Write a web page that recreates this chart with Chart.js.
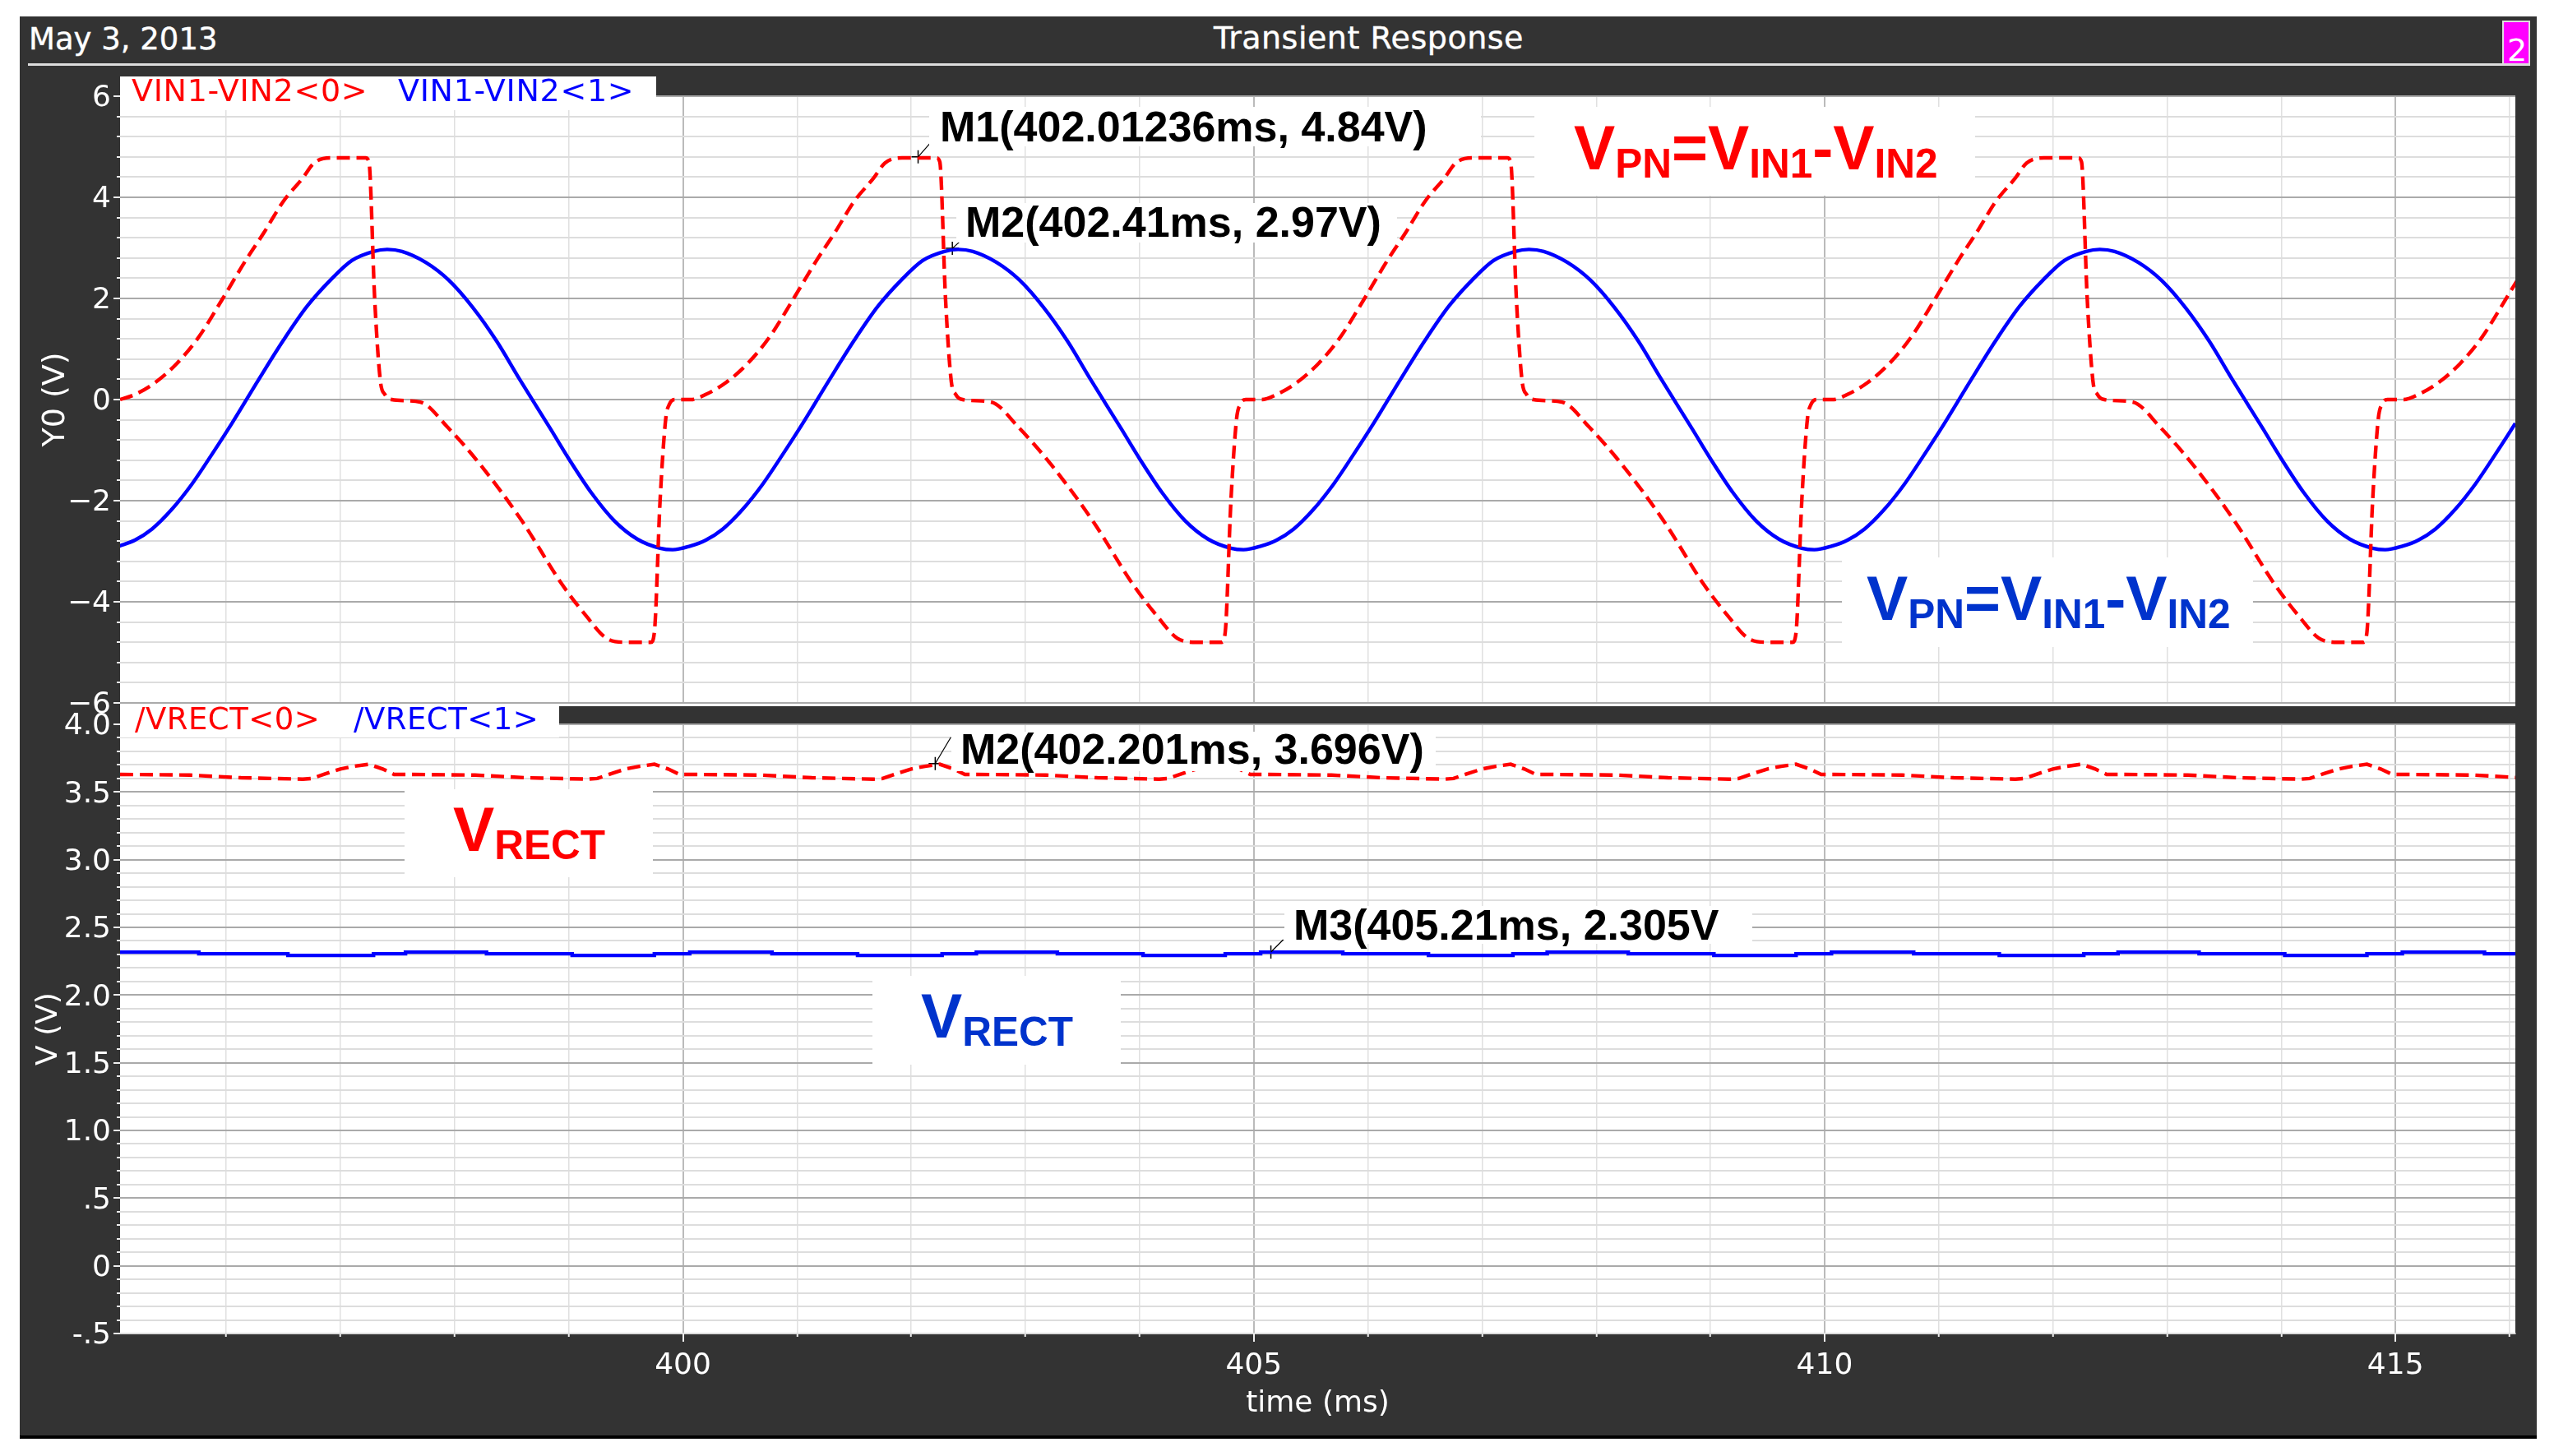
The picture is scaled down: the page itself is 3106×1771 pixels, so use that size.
<!DOCTYPE html>
<html><head><meta charset="utf-8">
<style>
html,body{margin:0;padding:0;background:#fff;width:3106px;height:1771px;overflow:hidden}
#stage{position:relative;width:3106px;height:1771px;overflow:hidden}
canvas{position:absolute;left:0;top:0}
.r{position:absolute}
.t{position:absolute;white-space:nowrap;line-height:1}
</style>
<script src="https://cdn.jsdelivr.net/npm/chart.js@4"></script>
</head><body><div id="stage"></div>
<script>
// ---------- data ----------
const xTickLabels = [400, 405, 410, 415];
const topTickLabels = {"6":"6","4":"4","2":"2","0":"0","-2":"−2","-4":"−4","-6":"−6"};
const lowTickLabels = {"4":"4.0","3.5":"3.5","3":"3.0","2.5":"2.5","2":"2.0","1.5":"1.5","1":"1.0","0.5":".5","0":"0","-0.5":"-.5"};

const vinRedT = [395.07,395.20,395.38,395.57,395.76,395.97,396.17,396.33,396.50,396.67,396.77,396.92,397.22,397.25,397.30,397.35,397.39,397.45,397.70,397.94,398.23,398.59,398.94,399.16,399.33,399.50,399.72,399.75,399.80,399.85,399.88,399.93,
400.07,400.20,400.38,400.57,400.76,400.97,401.17,401.33,401.50,401.67,401.77,401.92,402.22,402.25,402.30,402.35,402.39,402.45,402.70,402.94,403.23,403.59,403.94,404.16,404.33,404.50,404.72,404.75,404.80,404.85,404.88,404.93,
405.07,405.20,405.38,405.57,405.76,405.97,406.17,406.33,406.50,406.67,406.77,406.92,407.22,407.25,407.30,407.35,407.39,407.45,407.70,407.94,408.23,408.59,408.94,409.16,409.33,409.50,409.72,409.75,409.80,409.85,409.88,409.93,
410.07,410.20,410.38,410.57,410.76,410.97,411.17,411.33,411.50,411.67,411.77,411.92,412.22,412.25,412.30,412.35,412.39,412.45,412.70,412.94,413.23,413.59,413.94,414.16,414.33,414.50,414.72,414.75,414.80,414.85,414.88,414.93,
415.07,415.20,415.38,415.57,415.76,415.97,416.17];
const vinRedV = [0,0.10,0.34,0.72,1.24,2.00,2.75,3.30,3.92,4.38,4.68,4.78,4.78,4.70,2.00,0.37,0.10,0,-0.05,-0.55,-1.30,-2.40,-3.65,-4.30,-4.72,-4.80,-4.80,-4.60,-2.00,-0.37,-0.10,0,
0,0.10,0.34,0.72,1.24,2.00,2.75,3.30,3.92,4.38,4.68,4.78,4.78,4.70,2.00,0.37,0.10,0,-0.05,-0.55,-1.30,-2.40,-3.65,-4.30,-4.72,-4.80,-4.80,-4.60,-2.00,-0.37,-0.10,0,
0,0.10,0.34,0.72,1.24,2.00,2.75,3.30,3.92,4.38,4.68,4.78,4.78,4.70,2.00,0.37,0.10,0,-0.05,-0.55,-1.30,-2.40,-3.65,-4.30,-4.72,-4.80,-4.80,-4.60,-2.00,-0.37,-0.10,0,
0,0.10,0.34,0.72,1.24,2.00,2.75,3.30,3.92,4.38,4.68,4.78,4.78,4.70,2.00,0.37,0.10,0,-0.05,-0.55,-1.30,-2.40,-3.65,-4.30,-4.72,-4.80,-4.80,-4.60,-2.00,-0.37,-0.10,0,
0,0.10,0.34,0.72,1.24,2.00,2.75];

const vinBlueT = [395.06,395.20,395.35,395.52,395.70,395.87,396.05,396.28,396.50,396.71,396.92,397.10,397.29,397.41,397.54,397.75,397.95,398.16,398.37,398.57,398.84,399.00,399.20,399.40,399.60,399.80,399.91,
400.06,400.20,400.35,400.52,400.70,400.87,401.05,401.28,401.50,401.71,401.92,402.10,402.29,402.41,402.54,402.75,402.95,403.16,403.37,403.57,403.84,404.00,404.20,404.40,404.60,404.80,404.91,
405.06,405.20,405.35,405.52,405.70,405.87,406.05,406.28,406.50,406.71,406.92,407.10,407.29,407.41,407.54,407.75,407.95,408.16,408.37,408.57,408.84,409.00,409.20,409.40,409.60,409.80,409.91,
410.06,410.20,410.35,410.52,410.70,410.87,411.05,411.28,411.50,411.71,411.92,412.10,412.29,412.41,412.54,412.75,412.95,413.16,413.37,413.57,413.84,414.00,414.20,414.40,414.60,414.80,414.91,
415.06,415.20,415.35,415.52,415.70,415.87,416.05,416.28];
const vinBlueV = [-2.90,-2.78,-2.56,-2.18,-1.67,-1.10,-0.47,0.38,1.17,1.85,2.38,2.75,2.93,2.97,2.93,2.71,2.36,1.82,1.15,0.40,-0.58,-1.17,-1.85,-2.40,-2.76,-2.94,-2.97,
-2.90,-2.78,-2.56,-2.18,-1.67,-1.10,-0.47,0.38,1.17,1.85,2.38,2.75,2.93,2.97,2.93,2.71,2.36,1.82,1.15,0.40,-0.58,-1.17,-1.85,-2.40,-2.76,-2.94,-2.97,
-2.90,-2.78,-2.56,-2.18,-1.67,-1.10,-0.47,0.38,1.17,1.85,2.38,2.75,2.93,2.97,2.93,2.71,2.36,1.82,1.15,0.40,-0.58,-1.17,-1.85,-2.40,-2.76,-2.94,-2.97,
-2.90,-2.78,-2.56,-2.18,-1.67,-1.10,-0.47,0.38,1.17,1.85,2.38,2.75,2.93,2.97,2.93,2.71,2.36,1.82,1.15,0.40,-0.58,-1.17,-1.85,-2.40,-2.76,-2.94,-2.97,
-2.90,-2.78,-2.56,-2.18,-1.67,-1.10,-0.47,0.38];

const rectRedT = [395.07,395.68,396.13,396.67,396.75,396.87,397.00,397.12,397.25,397.37,397.47,
397.57,398.18,398.63,399.17,399.25,399.37,399.50,399.62,399.75,399.87,399.97,
400.07,400.68,401.13,401.67,401.75,401.87,402.00,402.12,402.25,402.37,402.47,
402.57,403.18,403.63,404.17,404.25,404.37,404.50,404.62,404.75,404.87,404.97,
405.07,405.68,406.13,406.67,406.75,406.87,407.00,407.12,407.25,407.37,407.47,
407.57,408.18,408.63,409.17,409.25,409.37,409.50,409.62,409.75,409.87,409.97,
410.07,410.68,411.13,411.67,411.75,411.87,412.00,412.12,412.25,412.37,412.47,
412.57,413.18,413.63,414.17,414.25,414.37,414.50,414.62,414.75,414.87,414.97,
415.07,415.68,416.10];
const rectRedV = [3.63,3.625,3.605,3.595,3.60,3.635,3.67,3.69,3.705,3.67,3.63,
3.63,3.625,3.605,3.595,3.60,3.635,3.67,3.69,3.705,3.67,3.63,
3.63,3.625,3.605,3.595,3.60,3.635,3.67,3.69,3.705,3.67,3.63,
3.63,3.625,3.605,3.595,3.60,3.635,3.67,3.69,3.705,3.67,3.63,
3.63,3.625,3.605,3.595,3.60,3.635,3.67,3.69,3.705,3.67,3.63,
3.63,3.625,3.605,3.595,3.60,3.635,3.67,3.69,3.705,3.67,3.63,
3.63,3.625,3.605,3.595,3.60,3.635,3.67,3.69,3.705,3.67,3.63,
3.63,3.625,3.605,3.595,3.60,3.635,3.67,3.69,3.705,3.67,3.63,
3.63,3.625,3.605];

const rectBlueT = [395.07,395.76,396.54,397.29,397.57,398.28,399.03,399.75,400.06,400.78,401.53,402.27,402.57,403.28,404.03,404.75,405.06,405.78,406.53,407.27,407.57,408.28,409.03,409.75,410.06,410.78,411.53,412.27,412.57,413.28,414.03,414.75,415.06,415.78,416.10];
const rectBlueV = [2.317,2.305,2.293,2.305,2.317,2.305,2.293,2.305,2.317,2.305,2.293,2.305,2.317,2.305,2.293,2.305,2.317,2.305,2.293,2.305,2.317,2.305,2.293,2.305,2.317,2.305,2.293,2.305,2.317,2.305,2.293,2.305,2.317,2.305,2.305];

const topMarkerT = [402.06, 402.36];
const topMarkerV = [4.80, 2.99];
const lowMarkerT = [402.21, 405.15];
const lowMarkerV = [3.71, 2.318];

// ---------- helpers ----------
const stage = document.getElementById('stage');
const FONT = '"DejaVu Sans"';
const ARIAL = '"Liberation Sans"';
function rect(x0,y0,x1,y1,color,extra){
  const d=document.createElement('div');d.className='r';
  d.style.cssText=`left:${x0}px;top:${y0}px;width:${x1-x0}px;height:${y1-y0}px;background:${color};${extra||''}`;
  stage.appendChild(d);return d;
}
function text(html,left,base,size,color,family,weight,extra){
  const d=document.createElement('div');d.className='t';
  d.style.cssText=`left:${left}px;top:${base-0.846*size}px;font-size:${size}px;color:${color};font-family:${family};font-weight:${weight||'normal'};${extra||''}`;
  d.innerHTML=html;stage.appendChild(d);return d;
}
function addCanvas(){
  const c=document.createElement('canvas');c.width=3106;c.height=1771;
  c.style.width='3106px';c.style.height='1771px';stage.appendChild(c);return c;
}
const pts=(xs,ys)=>xs.map((x,i)=>({x,y:ys[i]}));

// ticks with longer majors and slanted marker leaders
const decor={
  id:'decor',
  afterDraw(chart,args,opts){
    const ctx=chart.ctx;ctx.save();
    ctx.strokeStyle='#eeeeee';ctx.lineWidth=2;
    const y=chart.scales.y, x=chart.scales.x;
    y.ticks.forEach((t,i)=>{ if(t.label!==''){const p=Math.round(y.getPixelForValue(t.value));
      ctx.beginPath();ctx.moveTo(y.right-8,p);ctx.lineTo(y.right,p);ctx.stroke();}});
    if(opts.xTicks){x.ticks.forEach(t=>{ if(t.label!==''){const p=Math.round(x.getPixelForValue(t.value));
      ctx.beginPath();ctx.moveTo(p,x.top);ctx.lineTo(p,x.top+10);ctx.stroke();}});}
    const mi=chart.data.datasets.length-1, meta=chart.getDatasetMeta(mi);
    ctx.strokeStyle='#000';ctx.lineWidth=1.2;
    meta.data.forEach((el,i)=>{const l=opts.leaders[i];
      ctx.beginPath();ctx.moveTo(el.x,el.y);ctx.lineTo(el.x+l[0],el.y+l[1]);ctx.stroke();});
    ctx.restore();
  }
};
const gridOf=(major,minor,mw,nw)=>({
  color:c=>c.tick&&c.tick.label!==''?major:minor,
  lineWidth:c=>c.tick&&c.tick.label!==''?mw:nw,
  tickColor:'#eeeeee', tickWidth:2, tickLength:4, drawTicks:true
});
const xTickCb=v=>xTickLabels.includes(Math.round(v))?String(Math.round(v)):'';
const line=(data,color,dash,extra)=>Object.assign({data,borderColor:color,borderWidth:4.4,borderDash:dash,
  pointRadius:0,tension:0,fill:false},extra||{});
const marks=data=>({data,showLine:false,pointStyle:'cross',pointRadius:8,pointBorderColor:'#000',pointBorderWidth:1.5,pointBackgroundColor:'#000'});
const tickFont={family:'DejaVu Sans',size:36};

// ---------- frame ----------
rect(24,20,3085,1746,'#333333');
rect(24,1746,3085,1750,'#000000');
rect(34,77,3077,79.5,'#dddddd');
rect(146,116,3059,1622,'#ffffff');
text('May 3, 2013',35,60,37,'#fff',FONT,'normal','-webkit-text-stroke:.4px #fff');
text('Transient Response',1476,59,38,'#fff',FONT,'normal','letter-spacing:.5px;-webkit-text-stroke:.4px #fff');
rect(3043,25,3077,79,'#ff00ff','box-sizing:border-box;border:2px solid #dddddd');
text('2',3049,74,38,'#fff',FONT);

// ---------- upper chart ----------
new Chart(addCanvas(),{
  type:'line',
  plugins:[decor],
  data:{datasets:[
    line(pts(vinRedT,vinRedV),'#ff0000',[16,8],{cubicInterpolationMode:'monotone'}),
    line(pts(vinBlueT,vinBlueV),'#0000ff',[],{cubicInterpolationMode:'monotone'}),
    marks(pts(topMarkerT,topMarkerV))
  ]},
  options:{
    responsive:false,animation:false,devicePixelRatio:1,
    layout:{padding:{left:0,right:47,top:117,bottom:916}},
    plugins:{legend:{display:false},tooltip:{enabled:false},decor:{leaders:[[14,-16],[11,-10]],xTicks:false}},
    scales:{
      x:{type:'linear',min:395.07,max:416.05,
        afterFit(s){s.height=0;},
        border:{display:false},
        ticks:{display:false,stepSize:1,includeBounds:false,autoSkip:false,maxRotation:0,callback:xTickCb},
        grid:Object.assign(gridOf('#bbbbbb','#e0e0e0',2,1.5),{drawTicks:false})},
      y:{type:'linear',min:-6,max:6,
        afterFit(s){s.width=146;},
        border:{display:false},
        title:{display:true,text:'Y0 (V)',color:'#ffffff',font:{family:'DejaVu Sans',size:38},padding:{top:45,bottom:0}},
        ticks:{stepSize:0.4,includeBounds:false,autoSkip:false,color:'#ffffff',font:tickFont,padding:7,labelOffset:3,
          callback:v=>{const k=String(Math.round(v*10)/10);return k in topTickLabels?topTickLabels[k]:'';}},
        grid:gridOf('#aaaaaa','#dddddd',2,2)}
    }
  }
});

rect(680,859,3059,880,'#333333');
rect(146,857,680,897,'#ffffff');

// ---------- lower chart ----------
new Chart(addCanvas(),{
  type:'line',
  plugins:[decor],
  data:{datasets:[
    line(pts(rectRedT,rectRedV),'#ff0000',[16,8]),
    line(pts(rectBlueT,rectBlueV),'#0000ff',[],{stepped:true}),
    marks(pts(lowMarkerT,lowMarkerV))
  ]},
  options:{
    responsive:false,animation:false,devicePixelRatio:1,
    layout:{padding:{left:0,right:47,top:881,bottom:0}},
    plugins:{legend:{display:false},tooltip:{enabled:false},decor:{leaders:[[19,-32],[15,-15]],xTicks:true}},
    scales:{
      x:{type:'linear',min:395.07,max:416.05,
        afterFit(s){s.height=149;},
        border:{display:true,color:'#dddddd',width:2},
        title:{display:true,text:'time (ms)',color:'#ffffff',font:{family:'DejaVu Sans',size:36},padding:{top:0,bottom:42}},
        ticks:{stepSize:1,includeBounds:false,autoSkip:false,maxRotation:0,color:'#ffffff',font:tickFont,padding:14,callback:xTickCb},
        grid:gridOf('#bbbbbb','#e0e0e0',2,1.5)},
      y:{type:'linear',min:-0.5,max:4,
        afterFit(s){s.width=146;},
        border:{display:false},
        title:{display:true,text:'V (V)',color:'#ffffff',font:{family:'DejaVu Sans',size:36},padding:{top:38,bottom:0}},
        ticks:{stepSize:0.1,includeBounds:false,autoSkip:false,color:'#ffffff',font:tickFont,padding:7,labelOffset:3,
          callback:v=>{const k=String(Math.round(v*10)/10);return k in lowTickLabels?lowTickLabels[k]:'';}},
        grid:gridOf('#aaaaaa','#dddddd',2,2)}
    }
  }
});

// ---------- legends ----------
rect(146,93,798,134,'#ffffff');
text('VIN1-VIN2&lt;0&gt;',160,123,38,'#ff0000',FONT,'normal','letter-spacing:.7px');
text('VIN1-VIN2&lt;1&gt;',484,123,38,'#0000ff',FONT,'normal','letter-spacing:.7px');
rect(146,857,680,897,'#ffffff');
text('/VRECT&lt;0&gt;',164,887,37,'#ff0000',FONT,'normal','letter-spacing:.5px');
text('/VRECT&lt;1&gt;',430,887,37,'#0000ff',FONT,'normal','letter-spacing:.5px');

// ---------- annotations ----------
const sub=s=>`<span style="font-size:49.5px;position:relative;top:10px">${s}</span>`;
rect(1866,130,2402,238,'#ffffff');
text(`V${sub('PN')}=V${sub('IN1')}-V${sub('IN2')}`,1914,207,75.3,'#ff0000',ARIAL,'bold');
rect(2240,678,2740,787,'#ffffff');
text(`V${sub('PN')}=V${sub('IN1')}-V${sub('IN2')}`,2270,755,75.3,'#0033cc',ARIAL,'bold');
rect(492,960,794,1067,'#ffffff');
text(`V${sub('RECT')}`,551,1036,75.3,'#ff0000',ARIAL,'bold');
rect(1061,1187,1363,1295,'#ffffff');
text(`V${sub('RECT')}`,1120,1263,75.3,'#0033cc',ARIAL,'bold');

rect(1130,130,1801,178,'#ffffff');
text('M1(402.01236ms, 4.84V)',1143,172,52,'#000',ARIAL,'bold');
rect(1163,247,1699,295,'#ffffff');
text('M2(402.41ms, 2.97V)',1174,288,52,'#000',ARIAL,'bold');
rect(1157,890,1746,938,'#ffffff');
text('M2(402.201ms, 3.696V)',1168,929,52,'#000',ARIAL,'bold');
rect(1562,1102,2131,1148,'#ffffff');
text('M3(405.21ms, 2.305V',1573,1143,52,'#000',ARIAL,'bold');
</script>
</body></html>
